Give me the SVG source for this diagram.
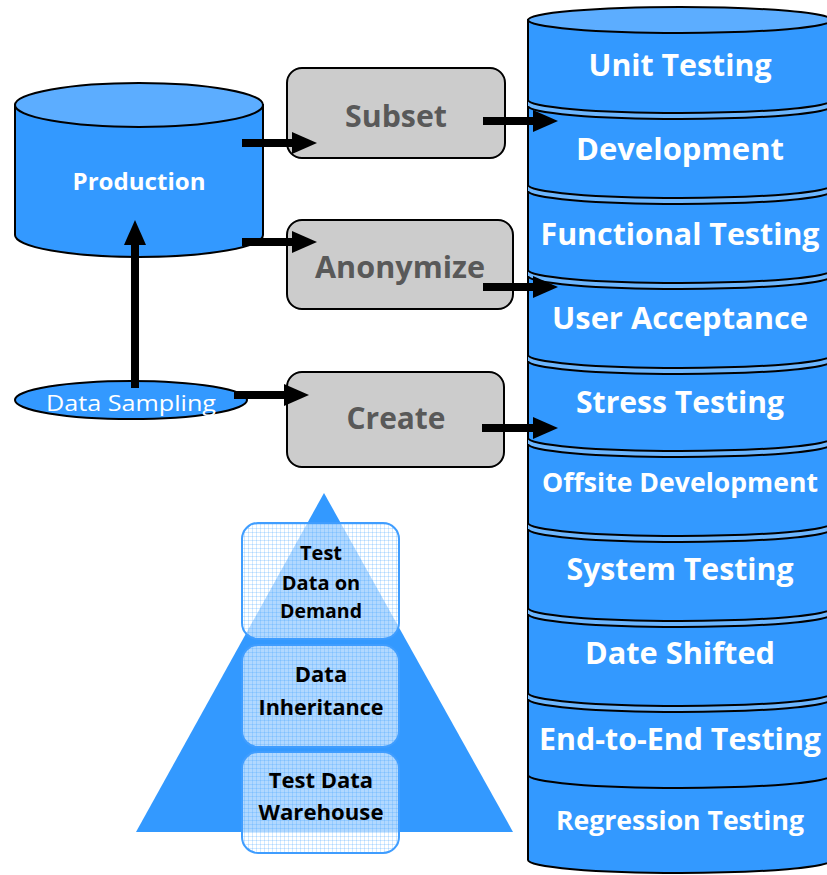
<svg xmlns="http://www.w3.org/2000/svg" width="827" height="875" viewBox="0 0 827 875">
<style>
.blue{fill:#3399ff;stroke:#000;stroke-width:2}
.lite{fill:#5cadff;stroke:#000;stroke-width:2}
.sep{fill:#6cb6ff;stroke:none}
.arc{fill:none;stroke:#000;stroke-width:2}
.box{fill:#cccccc;stroke:#000;stroke-width:2}
.gtxt{font-family:"Open Sans","Liberation Sans",sans-serif;font-weight:bold;font-size:31px;fill:#595959;text-anchor:middle}
.wtxt{font-family:"Open Sans","Liberation Sans",sans-serif;font-weight:bold;font-size:31px;fill:#fff;text-anchor:middle}
.wsm{font-size:27px}
.ptxt{font-family:"Open Sans","Liberation Sans",sans-serif;font-weight:bold;font-size:22px;fill:#000;text-anchor:middle}
.pbox{fill:url(#grid);stroke:#3f9dff;stroke-width:2}
.conn{stroke:#000;stroke-width:8;fill:none;marker-end:url(#ah)}
</style>
<defs>
<marker id="ah" viewBox="0 0 25 22" markerUnits="userSpaceOnUse" markerWidth="25" markerHeight="22" refX="1" refY="11" orient="auto">
<path d="M0,0 L25,11 L0,22 Z" fill="#000"/>
</marker>
<pattern id="grid" width="4" height="4" patternUnits="userSpaceOnUse">
<rect width="4" height="4" fill="#fff" fill-opacity="0.62"/>
<path d="M0,0.5 H4 M0.5,0 V4" stroke="#3399ff" stroke-opacity="0.22" stroke-width="1"/>
</pattern>
</defs>

<g id="stack">
<path class="blue" d="M528,20 L528,860 A152,13 0 0 0 832,860 L832,20 Z"/>
<ellipse class="lite" cx="680" cy="20" rx="152" ry="13"/>
<g id="separators">
<path class="sep" d="M528,100 A152,13 0 0 0 832,100 L832,106 A152,13 0 0 1 528,106 Z"/>
<path class="arc" d="M528,100 A152,13 0 0 0 832,100 M528,106 A152,13 0 0 0 832,106"/>
<path class="sep" d="M528,185 A152,13 0 0 0 832,185 L832,191 A152,13 0 0 1 528,191 Z"/>
<path class="arc" d="M528,185 A152,13 0 0 0 832,185 M528,191 A152,13 0 0 0 832,191"/>
<path class="sep" d="M528,270 A152,13 0 0 0 832,270 L832,276 A152,13 0 0 1 528,276 Z"/>
<path class="arc" d="M528,270 A152,13 0 0 0 832,270 M528,276 A152,13 0 0 0 832,276"/>
<path class="sep" d="M528,355 A152,13 0 0 0 832,355 L832,361 A152,13 0 0 1 528,361 Z"/>
<path class="arc" d="M528,355 A152,13 0 0 0 832,355 M528,361 A152,13 0 0 0 832,361"/>
<path class="sep" d="M528,438 A152,13 0 0 0 832,438 L832,444 A152,13 0 0 1 528,444 Z"/>
<path class="arc" d="M528,438 A152,13 0 0 0 832,438 M528,444 A152,13 0 0 0 832,444"/>
<path class="sep" d="M528,523 A152,13 0 0 0 832,523 L832,529 A152,13 0 0 1 528,529 Z"/>
<path class="arc" d="M528,523 A152,13 0 0 0 832,523 M528,529 A152,13 0 0 0 832,529"/>
<path class="sep" d="M528,608 A152,13 0 0 0 832,608 L832,614 A152,13 0 0 1 528,614 Z"/>
<path class="arc" d="M528,608 A152,13 0 0 0 832,608 M528,614 A152,13 0 0 0 832,614"/>
<path class="sep" d="M528,693 A152,13 0 0 0 832,693 L832,699 A152,13 0 0 1 528,699 Z"/>
<path class="arc" d="M528,693 A152,13 0 0 0 832,693 M528,699 A152,13 0 0 0 832,699"/>
<path class="arc" d="M528,775 A152,13 0 0 0 832,775"/>
</g>
<text class="wtxt" x="680" y="76" textLength="183" lengthAdjust="spacingAndGlyphs">Unit Testing</text>
<text class="wtxt" x="680" y="160" textLength="208" lengthAdjust="spacingAndGlyphs">Development</text>
<text class="wtxt" x="680" y="245" textLength="279" lengthAdjust="spacingAndGlyphs">Functional Testing</text>
<text class="wtxt" x="680" y="329" textLength="256" lengthAdjust="spacingAndGlyphs">User Acceptance</text>
<text class="wtxt" x="680" y="413" textLength="208" lengthAdjust="spacingAndGlyphs">Stress Testing</text>
<text class="wtxt wsm" x="680" y="492" textLength="276" lengthAdjust="spacingAndGlyphs">Offsite Development</text>
<text class="wtxt" x="680" y="580" textLength="227" lengthAdjust="spacingAndGlyphs">System Testing</text>
<text class="wtxt" x="680" y="664" textLength="190" lengthAdjust="spacingAndGlyphs">Date Shifted</text>
<text class="wtxt" x="680" y="750" textLength="282" lengthAdjust="spacingAndGlyphs">End-to-End Testing</text>
<text class="wtxt wsm" x="680" y="830" textLength="248" lengthAdjust="spacingAndGlyphs">Regression Testing</text>
</g>

<g id="production">
<path class="blue" d="M15,105 L15,235 A124,22 0 0 0 263,235 L263,105 Z"/>
<ellipse class="lite" cx="139" cy="105" rx="124" ry="22"/>
<text class="wtxt" x="139" y="190" style="font-size:24px" textLength="133" lengthAdjust="spacingAndGlyphs">Production</text>
</g>

<g id="data-sampling">
<ellipse class="blue" cx="131" cy="400" rx="116" ry="19"/>
<text x="131" y="411" font-family="Open Sans, Liberation Sans, sans-serif" font-size="22" fill="#fff" text-anchor="middle" textLength="170" lengthAdjust="spacingAndGlyphs">Data Sampling</text>
</g>

<g id="subset">
<rect class="box" x="287" y="68" width="218" height="90" rx="15"/>
<text class="gtxt" x="396" y="127" textLength="102" lengthAdjust="spacingAndGlyphs">Subset</text>
</g>
<g id="anonymize">
<rect class="box" x="287" y="220" width="226" height="89" rx="15"/>
<text class="gtxt" x="400" y="278" textLength="170" lengthAdjust="spacingAndGlyphs">Anonymize</text>
</g>
<g id="create">
<rect class="box" x="287" y="372" width="217" height="95" rx="15"/>
<text class="gtxt" x="396" y="429" textLength="99" lengthAdjust="spacingAndGlyphs">Create</text>
</g>

<g id="pyramid">
<polygon points="324,493 136,832 513,832" fill="#3399ff"/>
<g id="tdod">
<rect class="pbox" x="242" y="523" width="157" height="116" rx="16"/>
<text class="ptxt" x="321" y="560" style="font-size:20px">Test</text>
<text class="ptxt" x="321" y="590" style="font-size:20px">Data on</text>
<text class="ptxt" x="321" y="618" style="font-size:20px" textLength="82" lengthAdjust="spacingAndGlyphs">Demand</text>
</g>
<g id="inherit">
<rect class="pbox" x="242" y="645" width="157" height="102" rx="16"/>
<text class="ptxt" x="321" y="682">Data</text>
<text class="ptxt" x="321" y="715" textLength="125" lengthAdjust="spacingAndGlyphs">Inheritance</text>
</g>
<g id="warehouse">
<rect class="pbox" x="242" y="752" width="157" height="101" rx="16"/>
<text class="ptxt" x="321" y="788">Test Data</text>
<text class="ptxt" x="321" y="820" textLength="125" lengthAdjust="spacingAndGlyphs">Warehouse</text>
</g>
</g>

<g id="connectors">
<line class="conn" x1="135" y1="388" x2="135" y2="244"/>
<line class="conn" x1="242" y1="143" x2="293" y2="143"/>
<line class="conn" x1="242" y1="242" x2="293" y2="242"/>
<line class="conn" x1="483" y1="121" x2="534" y2="121"/>
<line class="conn" x1="483" y1="287" x2="534" y2="287"/>
<line class="conn" x1="234" y1="395" x2="285" y2="395"/>
<line class="conn" x1="482" y1="428" x2="534" y2="428"/>
</g>
</svg>
